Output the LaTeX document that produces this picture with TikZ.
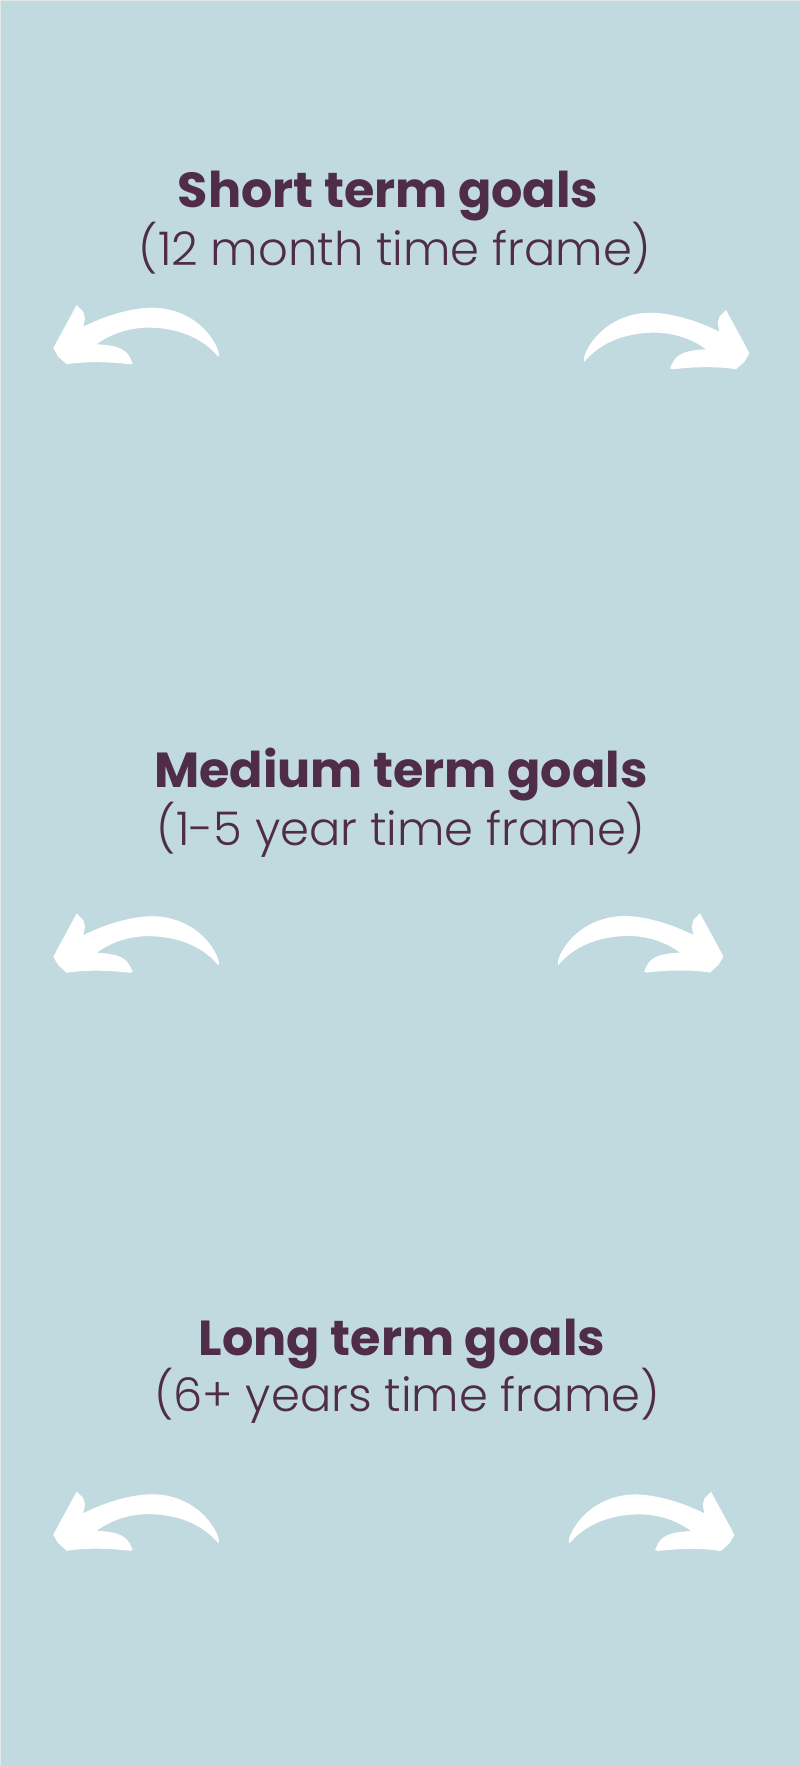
\documentclass[tikz,border=0pt]{standalone}
\usepackage{fontspec}
\setmainfont{Poppins}
\newfontfamily\framefont{Poppins Light}
\usetikzlibrary{positioning}
\usepackage{xcolor}
\definecolor{GoalBlue}{RGB}{192, 218, 223}
\definecolor{GoalPlum}{RGB}{79, 45, 72}
\definecolor{EdgeGray}{RGB}{226, 231, 232}

\tikzset{
  curvedarrow/.pic={
    \fill[white] (0,0) -- (6.6,6.7) -- (8.3,13.3) -- (6.6,21.7)
      .. controls (30,10) and (55,3) .. (75,2.7)
      .. controls (100,2.5) and (125,15) .. (138,38)
      .. controls (142,45) and (143,50) .. (141.6,51.7)
      .. controls (130,38) and (110,24) .. (75,22.7)
      .. controls (55,22) and (35,28) .. (20,39.3)
      .. controls (35,40) and (48,42) .. (53,52)
      -- (56,58.3) -- (53.3,59.3)
      .. controls (35,57) and (10,56) .. (-10,59.3)
      -- (-18.4,51.7) -- (-23.4,43.3) -- (-20,36.7) -- cycle;
  }
}

\begin{document}
\begin{tikzpicture}[x=0.01cm, y=-0.01cm]
        \tikzstyle{goal} = [text=GoalPlum, anchor=base, inner sep=0pt,
          font=\fontsize{14}{16}\selectfont\bfseries]
        \tikzstyle{frame} = [text=GoalPlum, anchor=base, inner sep=0pt,
          font=\fontsize{13.2}{16}\selectfont\framefont]

        \useasboundingbox (0,0) rectangle (800,1766);
        \fill[GoalBlue] (0,0) rectangle (800,1766);
        \draw[EdgeGray, line width=0.02cm] (0,1766) -- (0,0) -- (800,0);

        \node[goal] (short) at (388,207) {Short term goals};
        \node[frame] (shortframe) at (395,265) {(12 month time frame)};

        \node[goal] (medium) at (401,787) {Medium term goals};
        \node[frame] (mediumframe) at (401,845) {(1-5 year time frame)};

        \node[goal] (long) at (402,1355) {Long term goals};
        \node[frame] (longframe) at (407,1411) {(6+ years time frame)};

        % white arrows, left one and mirrored right one per goal
        \foreach \ly/\rx/\ry in {305/726/310, 913.5/700/913.3, 1491.5/711/1491.7} {
          \pic at (76.7,\ly) {curvedarrow};
          \pic[xscale=-1] at (\rx,\ry) {curvedarrow};
        }
      \end{tikzpicture}
\end{document}
